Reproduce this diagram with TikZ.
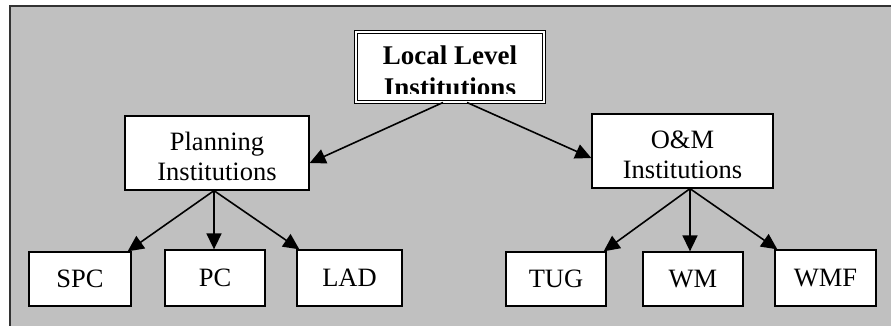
\documentclass[tikz,border=0pt]{standalone}
\usepackage{fontspec}
\setmainfont{Liberation Serif}
\usetikzlibrary{arrows.meta}
\definecolor{bggrey}{HTML}{C0C0C0}
\tikzset{
  box/.style={draw=black, fill=white, line width=1.3pt, inner sep=0pt, align=center,
              font=\fontsize{26.5}{30}\selectfont},
  arr/.style={draw=black, line width=1.6pt, -{Triangle[length=16pt,width=15pt]}},
  toptext/.style={anchor=base, inner sep=0pt, font=\fontsize{27}{32}\selectfont\bfseries}
}
\newcommand{\upstrut}{\rule{0pt}{26pt}}
\begin{document}
\begin{tikzpicture}[x=1pt,y=-1pt]
\useasboundingbox (0,0) rectangle (891,326);
\clip (0,0) rectangle (891,326);
\fill[white] (0,0) rectangle (891,326);
\draw[fill=bggrey, draw=black!80, line width=2pt] (9.5,6.5) rectangle (905,340);

% top box with double border
\node[draw=black, fill=white, line width=1pt, double, double distance=2pt,
      minimum width=188pt, minimum height=70pt, inner sep=0pt] (top) at (450,67) {};
\begin{scope}
  \clip (358,34) rectangle (542,94);
  \node[toptext] (t1) at (450,65) {Local Level};
  \node[toptext] (t2) at (450,97) {Institutions};
\end{scope}

% second level
\node[box, minimum width=184pt, minimum height=74pt] (pl) at (217,153) {\upstrut Planning\\Institutions};
\node[box, minimum width=181pt, minimum height=74pt] (om) at (682.5,151) {\upstrut O\&M\\Institutions};

% bottom level
\node[box, minimum width=102pt, minimum height=54pt] (spc) at (80,279) {SPC};
\node[box, minimum width=100pt, minimum height=56pt] (pc)  at (215,278) {PC};
\node[box, minimum width=105pt, minimum height=56pt] (lad) at (349.5,278) {LAD};
\node[box, minimum width=100pt, minimum height=54pt] (tug) at (556,279) {TUG};
\node[box, minimum width=100pt, minimum height=54pt] (wm)  at (693,279) {WM};
\node[box, minimum width=101pt, minimum height=56pt] (wmf) at (825.5,278) {WMF};

% connectors
\draw[arr] ([xshift=-7pt]top.south) -- ([yshift=-10pt]pl.east);
\draw[arr] ([xshift=17pt]top.south) -- ([yshift=-7pt]om.west);

\draw[arr] ([xshift=-3pt]pl.south) -- ([xshift=-4pt]spc.north east);
\draw[arr] ([xshift=-3pt]pl.south) -- ([xshift=-1pt]pc.north);
\draw[arr] ([xshift=-3pt]pl.south) -- ([xshift=3pt]lad.north west);

\draw[arr] ([xshift=7.5pt]om.south) -- ([xshift=-3pt]tug.north east);
\draw[arr] ([xshift=7.5pt]om.south) -- ([xshift=-3pt]wm.north);
\draw[arr] ([xshift=7.5pt]om.south) -- ([xshift=3pt]wmf.north west);
\end{tikzpicture}
\end{document}
